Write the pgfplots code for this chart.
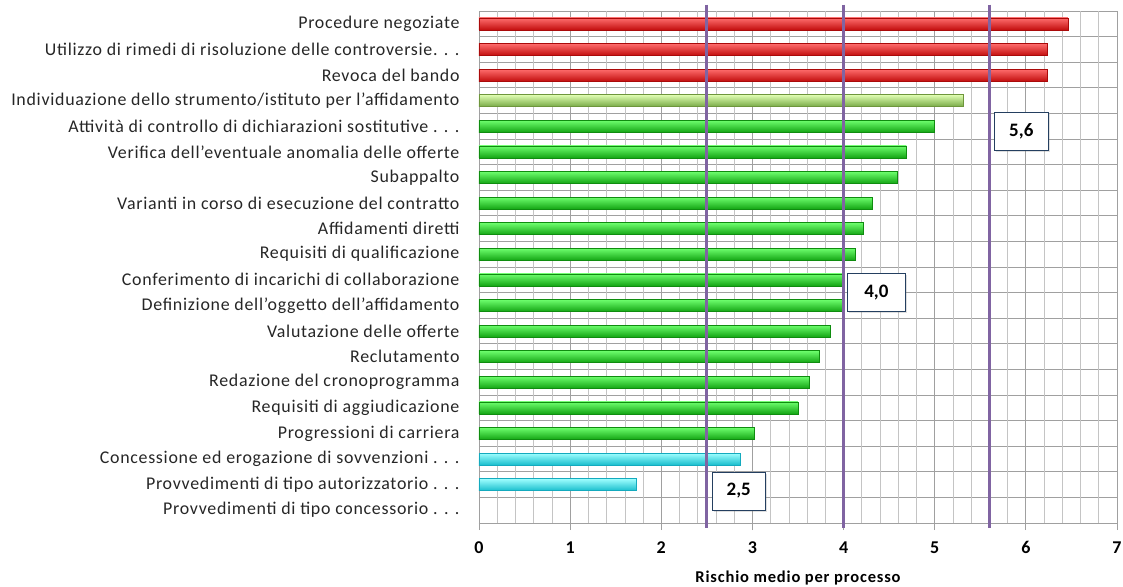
\documentclass[border=0pt]{standalone}
\usepackage{fontspec}
\setmainfont{Carlito}
\newfontfamily\labelfont{Carlito}[LetterSpace=4]
\newfontfamily\boldfont{Carlito}[LetterSpace=5, BoldFont={Carlito Bold}]
\usepackage{pgfplots}
\usetikzlibrary{shadows}
\pgfplotsset{compat=1.18}
\definecolor{gridmaj}{HTML}{A0A0A0}
\definecolor{gridmin}{HTML}{C4C4C4}
\definecolor{purplec}{HTML}{8064A2}
\definecolor{boxc}{HTML}{243F60}
\pgfplotsset{
  basebar/.style={xbar, bar width=12pt, bar shift=0pt, line width=0.5pt, forget plot},
  redbar/.style={basebar, draw={rgb,255:red,170;green,10;blue,10},
    top color={rgb,255:red,255;green,110;blue,110}, middle color={rgb,255:red,255;green,40;blue,40}, bottom color={rgb,255:red,195;green,15;blue,15}},
  lgbar/.style={basebar, draw={rgb,255:red,110;green,150;blue,60},
    top color={rgb,255:red,225;green,255;blue,180}, middle color={rgb,255:red,180;green,240;blue,115}, bottom color={rgb,255:red,120;green,170;blue,70}},
  grbar/.style={basebar, draw={rgb,255:red,15;green,140;blue,15},
    top color={rgb,255:red,110;green,255;blue,110}, middle color={rgb,255:red,45;green,240;blue,45}, bottom color={rgb,255:red,20;green,165;blue,20}},
  cybar/.style={basebar, draw={rgb,255:red,20;green,170;blue,190},
    top color={rgb,255:red,160;green,255;blue,255}, middle color={rgb,255:red,45;green,240;blue,245}, bottom color={rgb,255:red,25;green,190;blue,205}},
}
\tikzset{
  valbox/.style={draw=boxc, fill=white, line width=0.9pt, minimum height=38pt,
    font=\bfseries\fontsize{19}{19}\selectfont,
    drop shadow={shadow xshift=2pt, shadow yshift=-2pt, opacity=0.25}},
}
\begin{document}
\begin{tikzpicture}
\begin{axis}[
  name=ax,
  scale only axis, width=638pt, height=512pt,
  xmin=0, xmax=7, ymin=0.5, ymax=20.5, y dir=reverse,
  clip=false,
  axis x line*=bottom, axis y line*=left,
  axis line style={draw=gridmaj, line width=0.8pt},
  tick align=outside,
  xtick={0,1,...,7},
  xticklabels={0,1,2,3,4,5,6,7},
  xmajorgrids,
  major grid style={draw=gridmaj, line width=0.8pt},
  extra x ticks={0.2,0.4,0.6,0.8,1.2,1.4,1.6,1.8,2.2,2.4,2.6,2.8,3.2,3.4,3.6,3.8,4.2,4.4,4.6,4.8,5.2,5.4,5.6,5.8,6.2,6.4,6.6,6.8},
  extra x tick labels={},
  extra tick style={major tick length=0pt, grid=major, major grid style={draw=gridmin, line width=0.6pt}},
  xtick style={draw=gridmaj, line width=0.8pt},
  major tick length=7pt,
  ytick={1,...,20},
  ytick style={draw=none},
  minor ytick={0.5,1.5,...,20.5},
  yminorgrids,
  minor grid style={draw=gridmaj, line width=0.8pt},
  minor tick length=6pt,
  minor tick style={draw=gridmaj, line width=0.8pt},
  yticklabels={
    Procedure negoziate,
    Utilizzo di rimedi di risoluzione delle controversie. . .,
    Revoca del bando,
    Individuazione dello strumento/istituto per l’affidamento,
    Attività di controllo di dichiarazioni sostitutive . . .,
    Verifica dell’eventuale anomalia delle offerte,
    Subappalto,
    Varianti in corso di esecuzione del contratto,
    Affidamenti diretti,
    Requisiti di qualificazione,
    Conferimento di incarichi di collaborazione,
    Definizione dell’oggetto dell’affidamento,
    Valutazione delle offerte,
    Reclutamento,
    Redazione del cronoprogramma,
    Requisiti di aggiudicazione,
    Progressioni di carriera,
    Concessione ed erogazione di sovvenzioni . . .,
    Provvedimenti di tipo autorizzatorio . . .,
    Provvedimenti di tipo concessorio . . .},
  yticklabel style={font=\labelfont\fontsize{17.9}{19}\selectfont, text=black!85, xshift=-9pt},
  xticklabel style={font=\bfseries\fontsize{18}{18}\selectfont, yshift=-8pt},
  xlabel={Rischio medio per processo},
  xlabel style={font=\boldfont\bfseries\fontsize{16.5}{18}\selectfont, yshift=-3pt},
]
\addplot[redbar] coordinates {(6.46,1)};
\addplot[redbar] coordinates {(6.24,2)};
\addplot[redbar] coordinates {(6.24,3)};
\addplot[lgbar] coordinates {(5.31,4)};
\addplot[grbar] coordinates {(5.00,5)};
\addplot[grbar] coordinates {(4.69,6)};
\addplot[grbar] coordinates {(4.59,7)};
\addplot[grbar] coordinates {(4.32,8)};
\addplot[grbar] coordinates {(4.22,9)};
\addplot[grbar] coordinates {(4.13,10)};
\addplot[grbar] coordinates {(4.00,11)};
\addplot[grbar] coordinates {(4.00,12)};
\addplot[grbar] coordinates {(3.85,13)};
\addplot[grbar] coordinates {(3.73,14)};
\addplot[grbar] coordinates {(3.62,15)};
\addplot[grbar] coordinates {(3.50,16)};
\addplot[grbar] coordinates {(3.02,17)};
\addplot[cybar] coordinates {(2.87,18)};
\addplot[cybar] coordinates {(1.73,19)};
\addplot[purplec, line width=3pt, forget plot] coordinates {(2.5,0.25) (2.5,20.7)};
\addplot[purplec, line width=3pt, forget plot] coordinates {(4.0,0.25) (4.0,20.7)};
\addplot[purplec, line width=3pt, forget plot] coordinates {(5.6,0.25) (5.6,20.7)};
\node[valbox, minimum width=54pt] at (axis cs:5.95,5.19) {5,6};
\node[valbox, minimum width=58pt] at (axis cs:4.36,11.48) {4,0};
\node[valbox, minimum width=53pt] at (axis cs:2.85,19.25) {2,5};
\end{axis}
\pgfresetboundingbox
\path (ax.south west) ++(-479pt,-63pt);
\path (ax.north east) ++(6pt,11pt);
\end{tikzpicture}
\end{document}
